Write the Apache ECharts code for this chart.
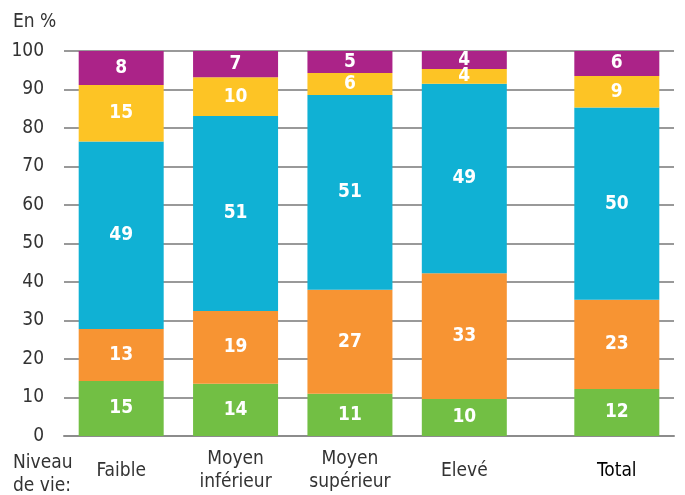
<!DOCTYPE html>
<html>
<head>
<meta charset="utf-8">
<script src="https://cdn.jsdelivr.net/npm/echarts@6/dist/echarts.min.js"></script>
<style>
  html, body { margin: 0; padding: 0; background: #fff; }
  #chart { width: 685px; height: 495px; }
</style>
</head>
<body>
<div id="chart"></div>
<script>
// catégories (niveau de vie)
var categories = ['Faible', 'Moyen\ninférieur', 'Moyen\nsupérieur', 'Elevé', 'Total'];

// hauteurs des segments (en %)
var vertValues   = [14.3, 13.6, 11.0, 9.6, 12.2];
var orangeValues = [13.5, 18.9, 27.0, 32.7, 23.2];
var bleuValues   = [48.7, 50.6, 50.6, 49.2, 49.9];
var jauneValues  = [14.7, 10.1, 5.7, 3.8, 8.2];
var violetValues = [8.8, 6.8, 5.7, 4.7, 6.5];

// étiquettes affichées (arrondies)
var vertLabels   = [15, 14, 11, 10, 12];
var orangeLabels = [13, 19, 27, 33, 23];
var bleuLabels   = [49, 51, 51, 49, 50];
var jauneLabels  = [15, 10, 6, 4, 9];
var violetLabels = [8, 7, 5, 4, 6];

var yTicks = [0, 10, 20, 30, 40, 50, 60, 70, 80, 90, 100];

var FONT = '"DejaVu Sans Condensed", "Liberation Sans Narrow", "Liberation Sans", sans-serif';
var FS = 19;

// emplacement de chaque barre sur une grille fine (Total un peu écarté)
var slots = [1, 4, 7, 10, 14];
var nbSlots = 16;

var xData = [];
for (var i = 0; i < nbSlots; i++) xData.push('');
categories.forEach(function (c, k) {
  xData[slots[k]] = c === 'Total'
    ? { value: c, textStyle: { color: '#000', fontFamily: FONT, fontSize: FS, verticalAlign: 'middle', lineHeight: 23 } }
    : c;
});

function pad(values) {
  var out = [];
  for (var i = 0; i < nbSlots; i++) out.push('-');
  values.forEach(function (v, k) { out[slots[k]] = v; });
  return out;
}

function makeSerie(name, values, labels, color) {
  var lab = {};
  slots.forEach(function (s, k) { lab[s] = labels[k]; });
  return {
    name: name,
    type: 'bar',
    stack: 'total',
    barWidth: 85,
    data: pad(values),
    itemStyle: { color: color },
    label: {
      show: true,
      position: 'inside',
      color: '#fff',
      fontFamily: FONT,
      fontWeight: 'bold',
      fontSize: FS,
      formatter: function (p) { return lab[p.dataIndex]; }
    }
  };
}

var chart = echarts.init(document.getElementById('chart'), null, { renderer: 'canvas' });

var option = {
  animation: false,
  grid: { left: 64, right: 11, top: 51, bottom: 59 },
  xAxis: {
    type: 'category',
    data: xData,
    axisTick: { show: false },
    axisLine: { show: true, lineStyle: { color: '#8c8c8c', width: 2 } },
    axisLabel: {
      interval: 0,
      margin: 35,
      verticalAlign: 'middle',
      color: '#333',
      fontFamily: FONT,
      fontSize: FS,
      lineHeight: 23
    }
  },
  yAxis: {
    type: 'value',
    min: 0,
    max: 100,
    interval: 10,
    axisLine: { show: false },
    axisTick: { show: false },
    axisLabel: {
      color: '#333',
      fontFamily: FONT,
      fontSize: FS,
      margin: 20,
      formatter: function (v) { return yTicks.indexOf(v) >= 0 ? v : ''; }
    },
    splitLine: { lineStyle: { color: '#777', width: 1.5 } }
  },
  graphic: [
    {
      type: 'text', left: 13, top: 13,
      style: { text: 'En %', fill: '#333', font: FS + 'px ' + FONT }
    },
    {
      type: 'text', left: 13, top: 452,
      style: { text: 'Niveau\nde vie:', fill: '#333', font: FS + 'px ' + FONT, lineHeight: 23 }
    }
  ],
  series: [
    makeSerie('vert', vertValues, vertLabels, '#72bf44'),
    makeSerie('orange', orangeValues, orangeLabels, '#f79433'),
    makeSerie('bleu', bleuValues, bleuLabels, '#10b1d4'),
    makeSerie('jaune', jauneValues, jauneLabels, '#fdc425'),
    makeSerie('violet', violetValues, violetLabels, '#ab2388')
  ]
};

chart.setOption(option);
</script>
</body>
</html>
